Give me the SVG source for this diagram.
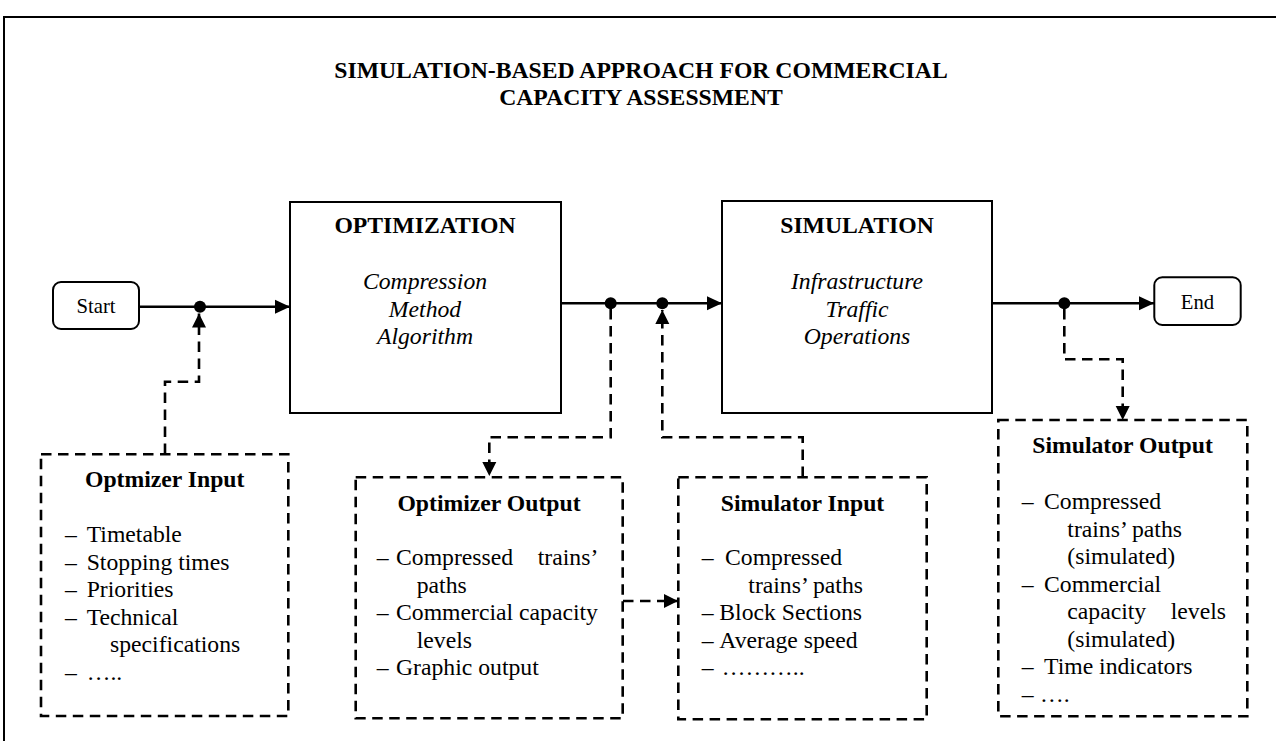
<svg xmlns="http://www.w3.org/2000/svg" width="1276" height="741" viewBox="0 0 1276 741">
<defs>
<style>
text{font-family:"Liberation Serif","Times New Roman",serif;fill:#000;font-size:23.7px}
.b{font-weight:bold}
.i{font-style:italic}
.c{text-anchor:middle}
.e{text-anchor:end}
.se{font-size:20.7px}
.solid{fill:#fff;stroke:#000;stroke-width:2}
.dbox{fill:none;stroke:#000;stroke-width:2.6;stroke-dasharray:10.5 6.5}
.line{fill:none;stroke:#000;stroke-width:2.5}
.dline{fill:none;stroke:#000;stroke-width:2.6;stroke-dasharray:10.5 6.5}
</style>
<marker id="arr" markerUnits="userSpaceOnUse" markerWidth="16" markerHeight="16" refX="15" refY="7" orient="auto" viewBox="0 0 16 14">
<path d="M0,0 L15,7 L0,14 Z" fill="#000"/>
</marker>
<marker id="darr" markerUnits="userSpaceOnUse" markerWidth="16" markerHeight="16" refX="14" refY="7" orient="auto" viewBox="0 0 16 14">
<path d="M0,0 L14,7 L0,14 Z" fill="#000"/>
</marker>
</defs>
<rect width="1276" height="741" fill="#fff"/>
<rect id="frame" x="4" y="17" width="1320" height="800" fill="none" stroke="#000" stroke-width="2"/>
<g id="title">
<text class="b c" x="641" y="78">SIMULATION-BASED APPROACH FOR COMMERCIAL</text>
<text class="b c" x="641" y="105">CAPACITY ASSESSMENT</text>
</g>
<g id="connectors">
<path class="line" d="M139,306.7 H290" marker-end="url(#arr)"/>
<path class="line" d="M561,303.3 H722" marker-end="url(#arr)"/>
<path class="line" d="M992,303.3 H1154" marker-end="url(#arr)"/>
<path class="dline" d="M165,454 V381.7 H199 V313.5" marker-end="url(#darr)"/>
<path class="dline" d="M610.7,309 V437.3 H489.3 V476" marker-end="url(#darr)"/>
<path class="dline" d="M802.7,477 V437.3 H662.3 V310" marker-end="url(#darr)"/>
<path class="dline" d="M1064.3,309 V359.3 H1122.7 V420" marker-end="url(#darr)"/>
<path class="dline" d="M623,601 H678" marker-end="url(#darr)"/>
<circle cx="200" cy="306.7" r="6"/>
<circle cx="610.7" cy="303.3" r="6"/>
<circle cx="662.3" cy="303.3" r="6"/>
<circle cx="1064.3" cy="303.3" r="6"/>
</g>
<g id="start">
<rect class="solid" x="53" y="282" width="86" height="47" rx="8"/>
<text class="c se" x="96" y="313">Start</text>
</g>
<g id="end">
<rect class="solid" x="1154.3" y="277.3" width="86.4" height="47.7" rx="8"/>
<text class="c se" x="1197.5" y="308.5">End</text>
</g>
<g id="optimization">
<rect class="solid" x="290" y="202" width="271" height="211"/>
<text class="b c" x="425" y="233.3">OPTIMIZATION</text>
<text class="i c" x="425" y="289">Compression</text>
<text class="i c" x="425" y="316.5">Method</text>
<text class="i c" x="425" y="344">Algorithm</text>
</g>
<g id="simulation">
<rect class="solid" x="722" y="201" width="270" height="212"/>
<text class="b c" x="857" y="233.3">SIMULATION</text>
<text class="i c" x="857" y="289">Infrastructure</text>
<text class="i c" x="857" y="316.5">Traffic</text>
<text class="i c" x="857" y="344">Operations</text>
</g>
<g id="optimizer-input">
<rect class="dbox" x="41" y="454.3" width="247.3" height="261.7"/>
<text class="b c" x="164.7" y="487">Optmizer Input</text>
<text x="65" y="542">–</text><text x="86.7" y="542">Timetable</text>
<text x="65" y="569.5">–</text><text x="86.7" y="569.5">Stopping times</text>
<text x="65" y="597">–</text><text x="86.7" y="597">Priorities</text>
<text x="65" y="624.5">–</text><text x="86.7" y="624.5">Technical</text>
<text x="110" y="652">specifications</text>
<text x="65" y="679.5">–</text><text x="86.7" y="679.5">…..</text>
</g>
<g id="optimizer-output">
<rect class="dbox" x="355.7" y="477.3" width="267" height="241"/>
<text class="b c" x="489" y="511">Optimizer Output</text>
<text x="376.7" y="565">–</text><text x="396" y="565">Compressed</text><text class="e" x="598.3" y="565">trains’</text>
<text x="416.7" y="592.5">paths</text>
<text x="376.7" y="620">–</text><text x="396" y="620">Commercial capacity</text>
<text x="416.7" y="647.5">levels</text>
<text x="376.7" y="675">–</text><text x="396" y="675">Graphic output</text>
</g>
<g id="simulator-input">
<rect class="dbox" x="678.3" y="477.3" width="248.4" height="242"/>
<text class="b c" x="802.5" y="511">Simulator Input</text>
<text x="701.7" y="565">–</text><text x="725" y="565">Compressed</text>
<text x="748.3" y="592.5">trains’ paths</text>
<text x="701.7" y="620">–</text><text x="719.3" y="620">Block Sections</text>
<text x="701.7" y="647.5">–</text><text x="719.3" y="647.5">Average speed</text>
<text x="701.7" y="675">–</text><text x="721.7" y="675">………..</text>
</g>
<g id="simulator-output">
<rect class="dbox" x="998.3" y="420" width="249" height="296.3"/>
<text class="b c" x="1122.5" y="453.3">Simulator Output</text>
<text x="1021.7" y="509">–</text><text x="1044" y="509">Compressed</text>
<text x="1067.3" y="536.5">trains’ paths</text>
<text x="1067.3" y="564">(simulated)</text>
<text x="1021.7" y="591.5">–</text><text x="1044" y="591.5">Commercial</text>
<text x="1067.3" y="619">capacity</text><text class="e" x="1226" y="619">levels</text>
<text x="1067.3" y="646.5">(simulated)</text>
<text x="1021.7" y="674">–</text><text x="1044" y="674">Time indicators</text>
<text x="1021.7" y="701.5">–</text><text x="1040" y="701.5">….</text>
</g>
</svg>
